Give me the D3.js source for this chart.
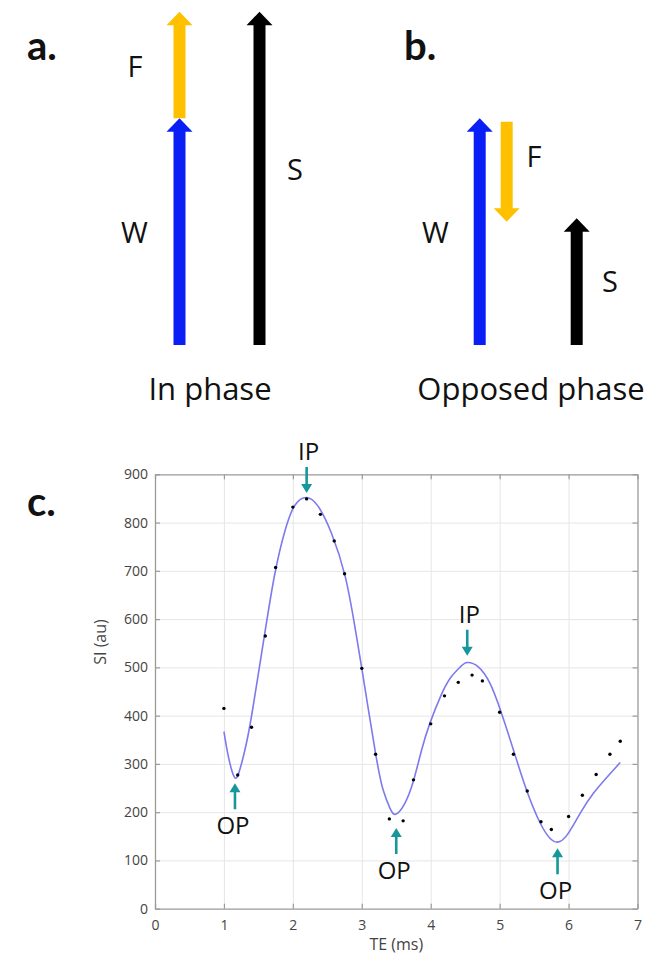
<!DOCTYPE html>
<html>
<head>
<meta charset="utf-8">
<script src="https://cdn.jsdelivr.net/npm/d3@7"></script>
<style>
  html, body { margin: 0; padding: 0; background: #fff; }
  svg { display: block; }
</style>
</head>
<body>
<svg id="chart" width="663" height="954"></svg>
<script>
// ---------------- DATA ----------------
// Panels a / b : phasor magnitudes (fraction of the in-phase signal S)
const vectorLabels = ["W", "F", "S"];
const inPhaseStart = [0, 0.68, 0];
const inPhaseEnd   = [0.68, 1.0, 1.0];
const opposedStart = [0, 0.67, 0];
const opposedEnd   = [0.68, 0.37, 0.38];
const panelTitles  = ["a.", "b.", "c."];
const panelCaptions = ["In phase", "Opposed phase"];

// Panel c : measured signal intensity vs echo time
const teMeasured = [1.0, 1.2, 1.4, 1.6, 1.75, 2.0, 2.2, 2.4, 2.6, 2.75, 3.0, 3.2, 3.4, 3.6, 3.75,
                    4.0, 4.2, 4.4, 4.6, 4.75, 5.0, 5.2, 5.4, 5.6, 5.75, 6.0, 6.2, 6.4, 6.6, 6.75];
const siMeasured = [415, 277, 376, 565, 707, 832, 849, 817, 762, 694, 498, 320, 186, 182, 267,
                    383, 441, 469, 484, 472, 407, 320, 244, 180, 164, 191, 235, 278, 320, 347];

// Panel c : fitted curve
const teFit = [1.0, 1.065, 1.15, 1.23, 1.355, 1.475, 1.6, 1.74, 1.89, 2.03, 2.2, 2.37, 2.56, 2.76, 2.9, 3.0,
               3.2, 3.31, 3.41, 3.5, 3.63, 3.75, 3.87, 3.99, 4.14, 4.28, 4.43, 4.53, 4.69, 4.86, 5.01,
               5.2, 5.39, 5.59, 5.73, 5.84, 5.98, 6.17, 6.36, 6.56, 6.75];
const siFit = [367, 315, 273, 288, 363, 465, 577, 695, 785, 836, 852, 833, 778, 688, 584, 498,
               322, 246, 208, 196, 220, 265, 330, 385, 439, 477, 501, 510, 501, 467, 412,
               329, 246, 177, 146, 138, 153, 198, 239, 273, 303];

// Panel c : phase annotations
const annLabels = ["IP", "IP", "OP", "OP", "OP"];
const annTE     = [2.2, 4.53, 1.16, 3.5, 5.84];
const annTipSI  = [861, 524, 260, 167, 125];
const annDir    = ["down", "down", "up", "up", "up"];

// Axis ticks
const xTicks = [0, 1, 2, 3, 4, 5, 6, 7];
const yTicks = [0, 100, 200, 300, 400, 500, 600, 700, 800, 900];
const xLabel = "TE (ms)";
const yLabel = "SI (au)";

// ---------------- STYLE ----------------
const FONT = "'Open Sans', 'DejaVu Sans', sans-serif";
const vecColors = { W: "#0a1ff5", F: "#ffc000", S: "#000000" };
const teal = "#17979b";
const fitColor = "#7d7aee";

const svg = d3.select("#chart");

// ---------------- PANELS a & b ----------------
const mag = d3.scaleLinear().domain([0, 1]).range([345, 11.7]);

function drawArrow(g, x, y0, y1, color, shaftW, headW, headL) {
  // y0 = tail, y1 = tip (pixel coords)
  const dir = y1 < y0 ? -1 : 1;
  const hb = y1 - dir * headL;
  const pts = [
    [x - shaftW / 2, y0], [x - shaftW / 2, hb], [x - headW / 2, hb],
    [x, y1], [x + headW / 2, hb], [x + shaftW / 2, hb], [x + shaftW / 2, y0]
  ];
  g.append("path").attr("d", d3.line()(pts) + "Z").attr("fill", color);
}

const panels = [
  { start: inPhaseStart, end: inPhaseEnd, xs: [179.5, 179.5, 259.5],
    labelPos: [[134.5, 243], [135, 77], [295, 180]], caption: [210, 400], title: [27, 60] },
  { start: opposedStart, end: opposedEnd, xs: [479.7, 506.7, 576.7],
    labelPos: [[435.5, 243], [534, 167], [610, 292]], caption: [531, 400], title: [404, 60] }
];

panels.forEach((p, pi) => {
  const g = svg.append("g");
  vectorLabels.forEach((lab, i) => {
    drawArrow(g, p.xs[i], mag(p.start[i]), mag(p.end[i]), vecColors[lab], 12, 26, 13.5);
    g.append("text").attr("x", p.labelPos[i][0]).attr("y", p.labelPos[i][1])
      .attr("text-anchor", "middle").attr("font-family", FONT).attr("font-size", 29)
      .attr("fill", "#111").text(lab);
  });
  g.append("text").attr("x", p.caption[0]).attr("y", p.caption[1])
    .attr("text-anchor", "middle").attr("font-family", FONT).attr("font-size", 31)
    .attr("fill", "#111").text(panelCaptions[pi]);
  g.append("text").attr("x", p.title[0]).attr("y", p.title[1])
    .attr("font-family", "Lato, 'Open Sans', sans-serif").attr("font-weight", 700)
    .attr("font-size", 40).attr("fill", "#111").text(panelTitles[pi]);
});

svg.append("text").attr("x", 27).attr("y", 516)
  .attr("font-family", "Lato, 'Open Sans', sans-serif").attr("font-weight", 700)
  .attr("font-size", 40).attr("fill", "#111").text(panelTitles[2]);

// ---------------- PANEL c ----------------
const L = 155, R = 637.5, T = 474.3, B = 908.7;
const x = d3.scaleLinear().domain([0, 7]).range([L, R]);
const y = d3.scaleLinear().domain([0, 900]).range([B, T]);
const W = R - L, H = B - T;

const c = svg.append("g");

// grid
c.append("g").attr("transform", `translate(0,${B})`)
  .call(d3.axisBottom(x).tickValues(xTicks.slice(1, -1)).tickSize(-H).tickFormat(""))
  .call(g => g.select(".domain").remove())
  .call(g => g.selectAll("line").attr("stroke", "#e6e6e6").attr("stroke-width", 1));
c.append("g").attr("transform", `translate(${L},0)`)
  .call(d3.axisLeft(y).tickValues(yTicks.slice(1, -1)).tickSize(-W).tickFormat(""))
  .call(g => g.select(".domain").remove())
  .call(g => g.selectAll("line").attr("stroke", "#e6e6e6").attr("stroke-width", 1));

// axes with inward ticks
const axisColor = "#9a9a9a";
function styleAxis(g) {
  g.select(".domain").attr("stroke", axisColor).attr("stroke-width", 1.3);
  g.selectAll(".tick line").attr("stroke", axisColor).attr("stroke-width", 1.2);
  g.selectAll(".tick text").attr("font-family", FONT).attr("font-size", 14).attr("fill", "#444");
}
c.append("g").attr("transform", `translate(0,${B})`)
  .call(d3.axisBottom(x).tickValues(xTicks).tickSizeInner(-5).tickSizeOuter(0).tickPadding(11).tickFormat(d3.format("d")))
  .call(styleAxis);
c.append("g").attr("transform", `translate(0,${T})`)
  .call(d3.axisTop(x).tickValues(xTicks).tickSizeInner(-5).tickSizeOuter(0).tickFormat(""))
  .call(styleAxis);
c.append("g").attr("transform", `translate(${L},0)`)
  .call(d3.axisLeft(y).tickValues(yTicks).tickSizeInner(-5).tickSizeOuter(0).tickPadding(7).tickFormat(d3.format("d")))
  .call(styleAxis);
c.append("g").attr("transform", `translate(${R},0)`)
  .call(d3.axisRight(y).tickValues(yTicks).tickSizeInner(-5).tickSizeOuter(0).tickFormat(""))
  .call(styleAxis);

// axis labels
c.append("text").attr("x", (L + R) / 2).attr("y", 950).attr("text-anchor", "middle")
  .attr("font-family", FONT).attr("font-size", 16).attr("fill", "#444").text(xLabel);
c.append("text").attr("transform", "translate(106,642) rotate(-90)").attr("text-anchor", "middle")
  .attr("font-family", FONT).attr("font-size", 16).attr("fill", "#444").text(yLabel);

// fitted curve
const fitData = teFit.map((t, i) => [t, siFit[i]]);
c.append("path").datum(fitData)
  .attr("d", d3.line().x(d => x(d[0])).y(d => y(d[1])).curve(d3.curveNatural))
  .attr("fill", "none").attr("stroke", fitColor).attr("stroke-width", 1.6);

// measured points
c.selectAll("circle.pt").data(teMeasured.map((t, i) => [t, siMeasured[i]]))
  .enter().append("circle").attr("class", "pt")
  .attr("cx", d => x(d[0])).attr("cy", d => y(d[1])).attr("r", 1.7).attr("fill", "#000");

// annotations
annLabels.forEach((lab, i) => {
  const ax = x(annTE[i]);
  const tip = y(annTipSI[i]);
  const len = 26;
  if (annDir[i] === "down") {
    drawArrow(c, ax, tip - len, tip, teal, 2.6, 11, 9);
    c.append("text").attr("x", ax + 2).attr("y", tip - len - 7).attr("text-anchor", "middle")
      .attr("font-family", FONT).attr("font-size", 24).attr("fill", "#111").text(lab);
  } else {
    drawArrow(c, ax, tip + len, tip, teal, 2.6, 11, 9);
    c.append("text").attr("x", ax - 2).attr("y", tip + len + 25).attr("text-anchor", "middle")
      .attr("font-family", FONT).attr("font-size", 24).attr("fill", "#111").text(lab);
  }
});
</script>
</body>
</html>
